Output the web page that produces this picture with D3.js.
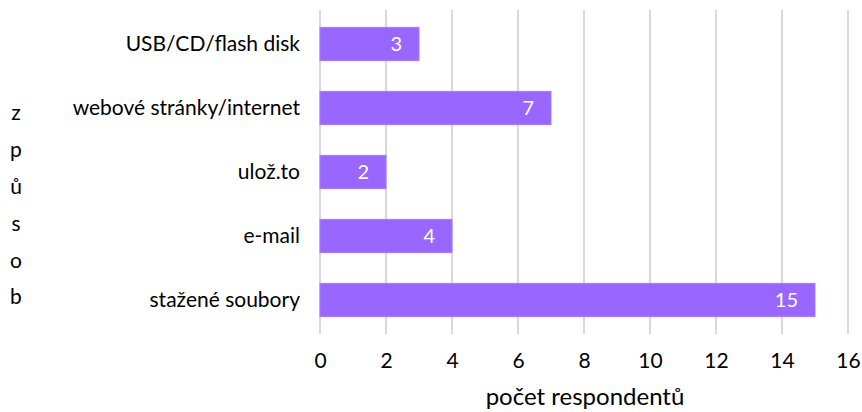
<!DOCTYPE html>
<html>
<head>
<meta charset="utf-8">
<script src="https://cdn.jsdelivr.net/npm/d3@7"></script>
<style>
  body { margin: 0; background: #fff; }
  text { font-family: Lato, "Open Sans", sans-serif; fill: #000; }
</style>
</head>
<body>
<svg id="chart" width="862" height="412"></svg>
<script>
// Způsob získání souborů – počet respondentů
const categories = ["USB/CD/flash disk", "webové stránky/internet", "ulož.to", "e-mail", "stažené soubory"];
const values = [3, 7, 2, 4, 15];
const xTicks = [0, 2, 4, 6, 8, 10, 12, 14, 16];
const xTitle = "počet respondentů";
const yTitle = "způsob";

const svg = d3.select("#chart");
const margin = { left: 320, right: 14, top: 12, bottom: 80 };
const W = 862, H = 412;
const font = "Lato, 'Open Sans', sans-serif";

const x = d3.scaleLinear().domain([0, 16]).range([margin.left, W - margin.right]);
const y = d3.scaleBand().domain(categories).range([margin.top, H - margin.bottom]).paddingInner(0.48).paddingOuter(0.24);

// vertical gridlines
svg.append("g").selectAll("line").data(xTicks).join("line")
  .attr("x1", d => x(d)).attr("x2", d => x(d))
  .attr("y1", margin.top - 2).attr("y2", H - margin.bottom + 2)
  .attr("stroke", "#d9d9d9").attr("stroke-width", 2);

// x-axis tick labels
const xAxis = d3.axisBottom(x).tickValues(xTicks).tickSize(0).tickPadding(0);
const gx = svg.append("g").attr("transform", `translate(0, ${H - margin.bottom + 21})`).call(xAxis);
gx.select(".domain").remove();
gx.selectAll("text").attr("font-size", 21).attr("font-family", font).attr("fill", "#000");

// y-axis category labels
const yAxis = d3.axisLeft(y).tickSize(0).tickPadding(20);
const gy = svg.append("g").attr("transform", `translate(${margin.left}, 0)`).call(yAxis);
gy.select(".domain").remove();
gy.selectAll("text").attr("font-size", 21).attr("font-family", font).attr("fill", "#000");

// bars
svg.append("g").selectAll("rect").data(categories).join("rect")
  .attr("x", x(0))
  .attr("y", d => y(d))
  .attr("width", (d, i) => x(values[i]) - x(0))
  .attr("height", y.bandwidth())
  .attr("fill", "#9966ff")
  .attr("stroke", "#a57cff").attr("stroke-width", 1);

// value labels inside bar ends
svg.append("g").selectAll("text").data(categories).join("text")
  .attr("x", (d, i) => x(values[i]) - 17)
  .attr("y", d => y(d) + y.bandwidth() / 2)
  .attr("dy", "0.36em")
  .attr("text-anchor", "end")
  .attr("font-size", 20)
  .style("fill", "#fff")
  .text((d, i) => values[i]);

// x-axis title
svg.append("text")
  .attr("x", (x(0) + x(16)) / 2 + 1)
  .attr("y", 405)
  .attr("text-anchor", "middle")
  .attr("font-size", 24)
  .text(xTitle);

// y-axis title, one letter per line
const letters = Array.from(yTitle);
svg.append("g").selectAll("text").data(letters).join("text")
  .attr("x", 16)
  .attr("y", (d, i) => 113 + i * 36.8)
  .attr("dy", "0.35em")
  .attr("text-anchor", "middle")
  .attr("font-size", 21)
  .text(d => d);
</script>
</body>
</html>
